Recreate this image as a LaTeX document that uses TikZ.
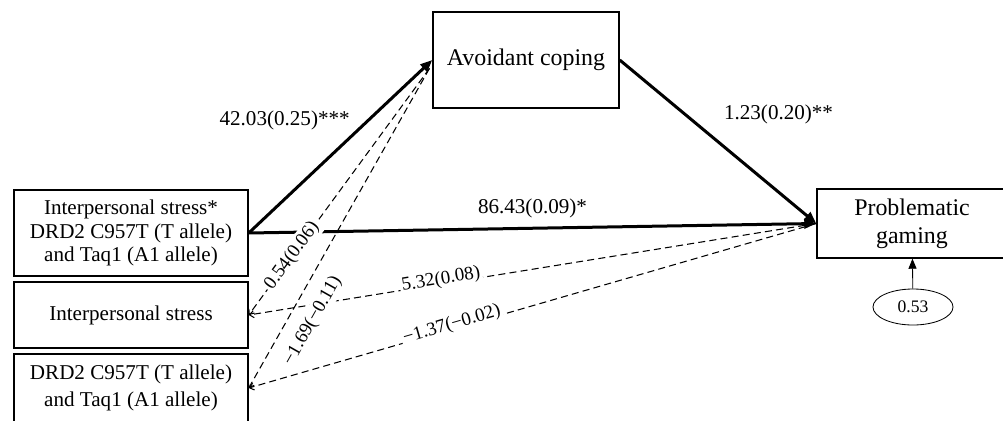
\documentclass[tikz,border=0pt]{standalone}
\usepackage{fontspec}
\setmainfont{Liberation Serif}
\usepackage{tikz}
\usetikzlibrary{arrows.meta}
\usetikzlibrary{shapes.geometric}

\tikzset{
   varbox/.style={draw, line width=0.035cm, align=center, inner sep=0pt},
   thickpath/.style={line width=0.075cm, -{Triangle[length=0.3cm, width=0.24cm]}},
   dashpath/.style={line width=0.75pt, dash pattern=on 5pt off 3pt, -{Straight Barb[length=3pt, width=5pt]}},
   pathlabel/.style={font=\fontsize{15}{18}\selectfont, inner sep=2pt},
   dashlabel/.style={font=\fontsize{13.5}{16}\selectfont, inner sep=1.5pt, fill=white}
}

\begin{document}
\begin{tikzpicture}[x=0.025cm, y=-0.025cm]
   \useasboundingbox (0,0) rectangle (1003,420);

   % predictors
   \node[varbox, minimum width=5.85cm, minimum height=2.15cm,
      font=\fontsize{15}{16.5}\selectfont] (inter) at (131,233)
      {Interpersonal stress*\\DRD2 C957T (T allele)\\and Taq1 (A1 allele)};
   \node[varbox, minimum width=5.85cm, minimum height=1.65cm,
      font=\fontsize{15}{18}\selectfont] (stress) at (131,315) {Interpersonal stress};
   \node[varbox, minimum width=5.85cm, minimum height=1.7cm,
      font=\fontsize{15}{19}\selectfont] (gene) at (131,388)
      {DRD2 C957T (T allele)\\and Taq1 (A1 allele)};

   % mediator and outcome
   \node[varbox, minimum width=4.65cm, minimum height=2.4cm,
      font=\fontsize{17}{20}\selectfont] (avoid) at (526,60) {Avoidant coping};
   \node[varbox, minimum width=4.75cm, minimum height=1.725cm,
      font=\fontsize{17}{20}\selectfont] (gaming) at (912,223.5) {Problematic\\gaming};
   \node[draw, ellipse, line width=0.6pt, minimum width=2cm, minimum height=0.9cm,
      font=\fontsize{12.5}{15}\selectfont] (resid) at (913,307) {0.53};

   % significant paths
   \draw[thickpath] (inter.east) -- (avoid.west)
      node[pos=0.65, left=10pt, pathlabel] {42.03(0.25)***};
   \draw[thickpath] (avoid.east) -- (gaming.west)
      node[pos=0.33, right=25pt, pathlabel] {1.23(0.20)**};
   \draw[thickpath] (inter.east) -- (gaming.west)
      node[midway, above=4pt, pathlabel] {86.43(0.09)*};

   % non-significant paths
   \draw[dashpath] (gaming.west) -- (stress.east)
      node[pos=0.66, sloped, above=-5pt, dashlabel] {5.32(0.08)};
   \draw[dashpath] (gaming.west) -- (gene.east)
      node[pos=0.64, sloped, above=-5pt, dashlabel] {−1.37(−0.02)};
   \draw[dashpath] ([xshift=-2pt, yshift=-6pt]avoid.west) -- (stress.east)
      node[pos=0.76, sloped, dashlabel] {0.54(0.06)};
   \draw[dashpath] ([xshift=-2pt, yshift=-6pt]avoid.west) -- (gene.east)
      node[pos=0.755, sloped, below=8pt, dashlabel] {−1.69(−0.11)};

   \draw[line width=0.6pt, -{Triangle[length=0.25cm, width=0.2cm]}] (resid) -- (gaming);
\end{tikzpicture}
\end{document}
